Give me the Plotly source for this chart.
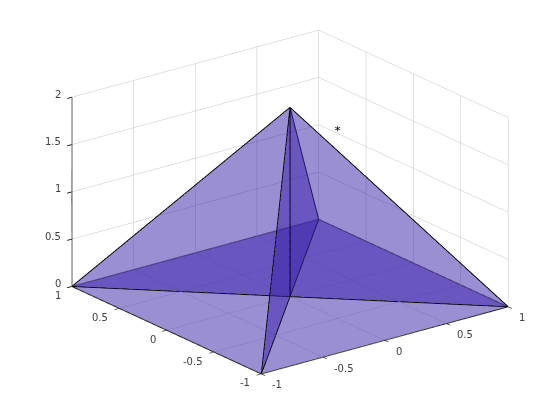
import plotly.graph_objects as go

# corners of the square base, the centre and the apex
vx = [-1, 1, 1, -1, 0, 0]
vy = [-1, -1, 1, 1, 0, 0]
vz = [0, 0, 0, 0, 0, 2]

# triangles as vertex indices
tri_i = [3, 0, 1, 2, 5, 5, 5, 5]
tri_j = [0, 1, 2, 3, 3, 4, 0, 4]
tri_k = [4, 4, 4, 4, 4, 1, 4, 2]

# polylines along the triangle edges
edges = [(5, 3), (5, 1), (5, 0), (5, 2), (5, 4), (3, 4), (4, 1), (0, 4), (4, 2),
         (3, 0), (0, 1), (1, 2), (2, 3)]

ticks_xy = [-1, -0.5, 0, 0.5, 1]
ticks_z = [0, 0.5, 1, 1.5, 2]
tick_labels_xy = ['-1', '-0.5', '0', '0.5', '1']
tick_labels_z = ['0', '0.5', '1', '1.5', '2']

star_x, star_y, star_z = [0.5], [0.15], [1.53]

fig = go.Figure()
fig.add_trace(go.Mesh3d(
    x=vx, y=vy, z=vz, i=tri_i, j=tri_j, k=tri_k,
    color='#371fa9', opacity=0.5, flatshading=True,
    lighting=dict(ambient=1, diffuse=0, specular=0, fresnel=0),
    hoverinfo='skip',
))

ex, ey, ez = [], [], []
for a, b in edges:
    ex += [vx[a], vx[b], None]
    ey += [vy[a], vy[b], None]
    ez += [vz[a], vz[b], None]
fig.add_trace(go.Scatter3d(x=ex, y=ey, z=ez, mode='lines',
                           line=dict(color='black', width=2), hoverinfo='skip'))
# the z axis edge is solid dark in the reference
fig.add_trace(go.Scatter3d(x=[-1, -1], y=[1, 1], z=[ticks_z[0], ticks_z[-1]], mode='lines',
                           line=dict(color='#262626', width=2), hoverinfo='skip'))
fig.add_trace(go.Scatter3d(x=star_x, y=star_y, z=star_z, mode='text', text=['*'],
                           textposition='middle center',
                           textfont=dict(family='DejaVu Sans', size=12, color='black')))


def axis(rng, vals):
    return dict(range=rng, tickvals=vals, title='', autorange=False, showticklabels=False,
                showbackground=False, showgrid=True, gridcolor='#c4c4c4', gridwidth=1,
                zeroline=False, showline=True, linecolor='#262626', linewidth=2,
                ticks='outside', ticklen=6, tickwidth=2, tickcolor='#262626', showspikes=False)


# tick labels are scene annotations so each axis can sit where the reference has it
tick_font = dict(family='DejaVu Sans', size=10, color='#404040')
labels = []
for v, t in zip(ticks_xy, tick_labels_xy):
    labels.append(dict(x=v, y=-1, z=0, text=t, xanchor='left', xshift=9, yshift=-11))
    labels.append(dict(x=-1, y=v, z=0, text=t, xanchor='right', xshift=-9, yshift=-9))
for v, t in zip(ticks_z, tick_labels_z):
    labels.append(dict(x=-1, y=1, z=v, text=t, xanchor='right', xshift=-9, yshift=3))
for a in labels:
    a.update(showarrow=False, yanchor='middle', font=tick_font)

fig.update_layout(
    width=560, height=420, margin=dict(l=0, r=0, t=0, b=0),
    paper_bgcolor='white', showlegend=False,
    scene=dict(
        domain=dict(x=[0.007, 1], y=[0.076, 1]),
        xaxis=axis([-1, 1], ticks_xy),
        yaxis=axis([-1, 1], ticks_xy),
        zaxis=axis([0, 2], ticks_z),
        aspectmode='manual', aspectratio=dict(x=1.604, y=1.604, z=1.043),
        camera=dict(projection=dict(type='orthographic'),
                    eye=dict(x=-1.138, y=-1.482, z=0.708),
                    up=dict(x=0, y=0, z=1),
                    center=dict(x=0, y=0, z=0)),
        annotations=labels,
    ),
)

fig.write_html("out.html")
